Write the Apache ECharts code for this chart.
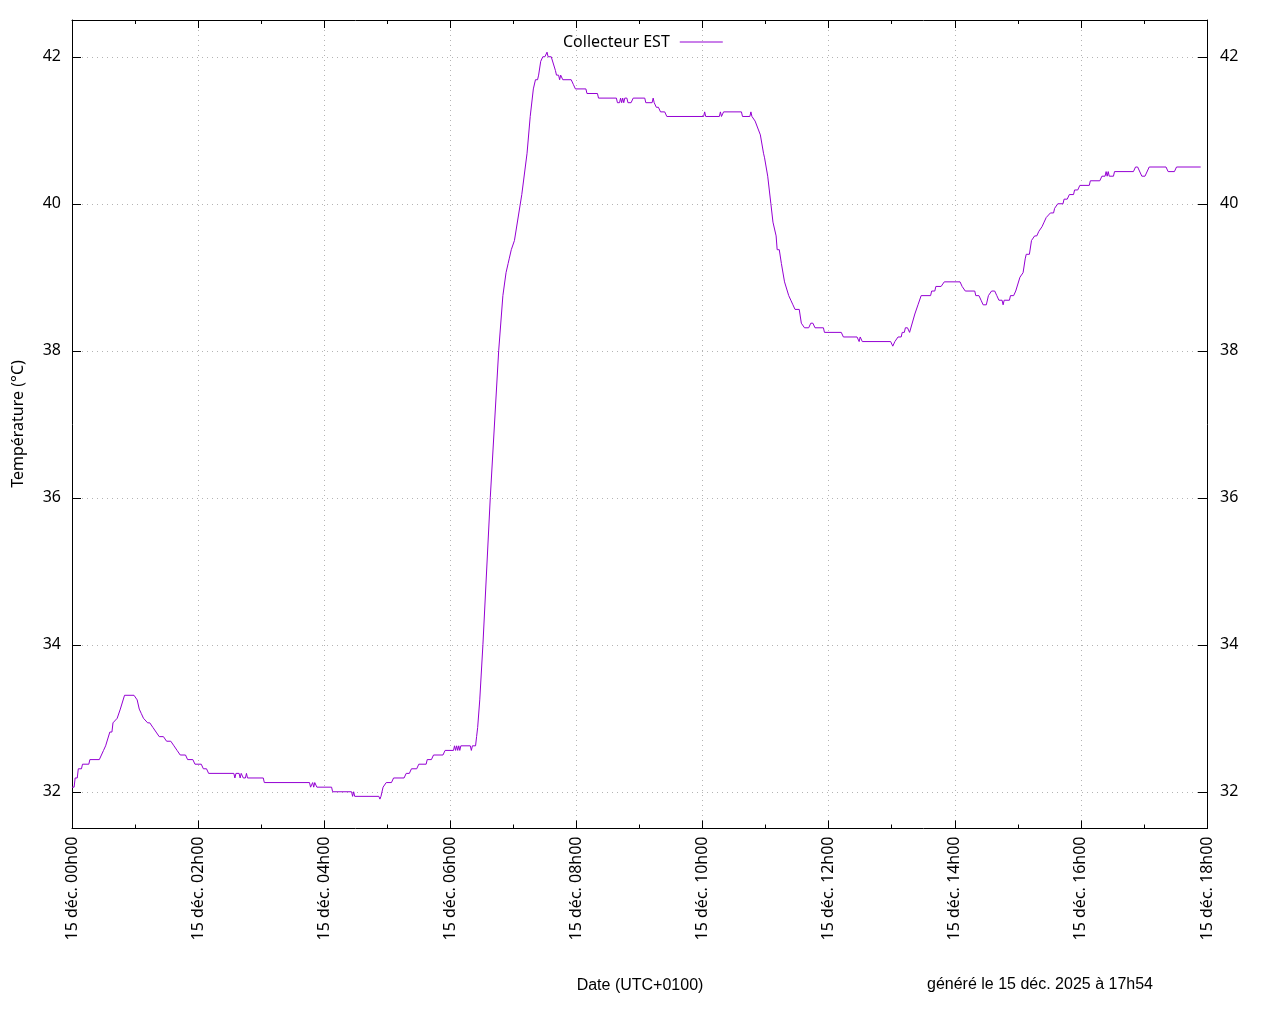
<!DOCTYPE html>
<html>
<head>
<meta charset="utf-8">
<script src="https://cdn.jsdelivr.net/npm/echarts@6/dist/echarts.min.js"></script>
<style>
html,body{margin:0;padding:0;background:#fff;}
#chart{width:1280px;height:1024px;}
</style>
</head>
<body>
<div id="chart"></div>
<script>
const seriesName = 'Collecteur EST';
const times = [
'00:00','00:02','00:03','00:05','00:06','00:09','00:10','00:16','00:17','00:26',
'00:28','00:30','00:32','00:36','00:38','00:39','00:43','00:46','00:50','00:59',
'01:02','01:04','01:06','01:08','01:12','01:14','01:17','01:20','01:23','01:27',
'01:30','01:34','01:37','01:40','01:43','01:48','01:50','01:55','01:57','02:03',
'02:05','02:08','02:10','02:34','02:35','02:36','02:39','02:40','02:41','02:43',
'02:45','02:46','02:47','03:02','03:03','03:46','03:47','03:49','03:50','03:51',
'03:53','04:07','04:08','04:26','04:27','04:28','04:29','04:52','04:53','04:54',
'04:56','04:59','05:04','05:06','05:16','05:18','05:21','05:23','05:28','05:30',
'05:37','05:38','05:42','05:44','05:53','05:55','06:03','06:04','06:05','06:06',
'06:07','06:08','06:09','06:10','06:19','06:20','06:21','06:24','06:25','06:26',
'06:27','06:28','06:31','06:38','06:46','06:50','06:53','06:55','06:56','06:57',
'06:58','06:59','07:01','07:02','07:08','07:13','07:16','07:19','07:21','07:23',
'07:24','07:26','07:28','07:30','07:32','07:33','07:36','07:40','07:41','07:43',
'07:44','07:45','07:47','07:55','07:57','07:59','08:09','08:10','08:20','08:21',
'08:38','08:39','08:41','08:42','08:43','08:44','08:45','08:46','08:48','08:49',
'08:52','08:54','09:05','09:06','09:12','09:13','09:14','09:16','09:18','09:20',
'09:24','09:26','10:01','10:02','10:03','10:16','10:17','10:18','10:20','10:37',
'10:38','10:45','10:46','10:47','10:48','10:50','10:51','10:55','10:58','10:59',
'11:02','11:03','11:05','11:07','11:10','11:11','11:13','11:15','11:18','11:22',
'11:24','11:26','11:28','11:32','11:34','11:37','11:41','11:43','11:45','11:47',
'11:55','11:56','12:12','12:14','12:27','12:29','12:30','12:32','12:59','13:01',
'13:03','13:06','13:09','13:10','13:12','13:13','13:15','13:17','13:22','13:25',
'13:28','13:37','13:38','13:41','13:42','13:47','13:50','14:05','14:07','14:10',
'14:19','14:20','14:23','14:25','14:27','14:30','14:32','14:35','14:38','14:40',
'14:42','14:45','14:46','14:47','14:52','14:53','14:56','14:58','14:59','15:02',
'15:05','15:07','15:08','15:11','15:13','15:16','15:18','15:20','15:23','15:25',
'15:27','15:31','15:34','15:35','15:38','15:43','15:44','15:47','15:49','15:53',
'15:54','15:57','15:59','16:08','16:09','16:18','16:20','16:23','16:24','16:25',
'16:26','16:27','16:31','16:32','16:50','16:52','16:54','16:58','17:01','17:05',
'17:21','17:23','17:29','17:31','17:54'
];
const temps = [
32.0625,32.0625,32.1875,32.1875,32.3125,32.3125,32.375,32.375,32.4375,32.4375,
32.5,32.5625,32.625,32.8125,32.8125,32.9375,33.0,33.125,33.3125,33.3125,
33.25,33.125,33.0625,33.0,32.9375,32.9375,32.875,32.8125,32.75,32.75,
32.6875,32.6875,32.625,32.5625,32.5,32.5,32.4375,32.4375,32.375,32.375,
32.3125,32.3125,32.25,32.25,32.1875,32.25,32.25,32.1875,32.25,32.1875,
32.1875,32.25,32.1875,32.1875,32.125,32.125,32.0625,32.125,32.0625,32.125,
32.0625,32.0625,32.0,32.0,31.9375,32.0,31.9375,31.9375,31.9,31.9375,
32.0625,32.125,32.125,32.1875,32.1875,32.25,32.25,32.3125,32.3125,32.375,
32.375,32.4375,32.4375,32.5,32.5,32.5625,32.5625,32.625,32.5625,32.625,
32.5625,32.625,32.5625,32.625,32.625,32.5625,32.625,32.625,32.75,32.875,
32.875,33.25,34.0,36.0,38.0,38.75,39.0625,39.1875,39.25,39.25,
39.375,39.375,39.5,39.5,40.125,40.6875,41.1875,41.5625,41.6875,41.6875,
41.75,41.9375,42.0,42.0,42.0625,42.0,42.0,41.8125,41.75,41.75,
41.6875,41.75,41.6875,41.6875,41.625,41.5625,41.5625,41.5,41.5,41.4375,
41.4375,41.375,41.375,41.4375,41.375,41.4375,41.375,41.4375,41.4375,41.375,
41.375,41.4375,41.4375,41.375,41.375,41.4375,41.375,41.3125,41.3125,41.25,
41.25,41.1875,41.1875,41.25,41.1875,41.1875,41.25,41.1875,41.25,41.25,
41.1875,41.1875,41.25,41.1875,41.1875,41.125,41.125,40.9375,40.6875,40.625,
40.375,40.375,40.0,39.75,39.5625,39.375,39.375,39.1875,38.9375,38.75,
38.6875,38.625,38.5625,38.5625,38.375,38.3125,38.3125,38.375,38.375,38.3125,
38.3125,38.25,38.25,38.1875,38.1875,38.125,38.1875,38.125,38.125,38.0625,
38.125,38.1875,38.1875,38.25,38.25,38.3125,38.3125,38.25,38.5,38.625,
38.75,38.75,38.8125,38.8125,38.875,38.875,38.9375,38.9375,38.875,38.8125,
38.8125,38.75,38.75,38.6875,38.625,38.625,38.75,38.8125,38.8125,38.75,
38.6875,38.6875,38.625,38.6875,38.6875,38.75,38.75,38.8125,38.8125,39.0,
39.0625,39.25,39.3125,39.3125,39.5,39.5625,39.5625,39.625,39.6875,39.75,
39.8125,39.875,39.875,39.9375,40.0,40.0,40.0625,40.0625,40.125,40.125,
40.1875,40.1875,40.25,40.25,40.3125,40.3125,40.375,40.375,40.4375,40.375,
40.4375,40.375,40.375,40.4375,40.4375,40.5,40.5,40.375,40.375,40.5,
40.5,40.4375,40.4375,40.5,40.5
];
const yTicks = [32, 34, 36, 38, 40, 42];
const datePrefix = '15 déc. ';
const yTitle = 'Température (°C)';
const xTitle = 'Date (UTC+0100)';
const footer = 'généré le 15 déc. 2025 à 17h54';

function toHours(s){ const p = s.split(':'); return (+p[0]) + (+p[1])/60 + (p[2]? (+p[2])/3600 : 0); }
const data = times.map((t,i)=>[toHours(t), temps[i]]);
function pad(n){ return (n<10?'0':'')+n; }

const chart = echarts.init(document.getElementById('chart'), null, {renderer:'canvas'});
const gridLine = {show:true, lineStyle:{color:'#b4b4b4', width:1, type:[1,4]}};
const font = 'Noto Sans';
chart.setOption({
  backgroundColor:'#ffffff',
  animation:false,
  grid:{left:72, top:20, width:1135, height:808.5, containLabel:false},
  legend:{
    data:[{name:seriesName, icon:'rect'}], left:558, top:29, align:'right',
    itemWidth:43, itemHeight:1, itemGap:0,
    itemStyle:{color:'#9400d3', borderWidth:0},
    lineStyle:{width:0},
    textStyle:{fontFamily:font, fontSize:16, color:'#000', padding:[0,5,0,0]}
  },
  xAxis:[
    {type:'value', min:0, max:18, interval:2, position:'bottom',
     axisLine:{show:true, onZero:false, lineStyle:{color:'#000', width:1}},
     axisTick:{show:true, inside:true, length:8, lineStyle:{color:'#000'}},
     minorTick:{show:true, splitNumber:2, length:4, lineStyle:{color:'#000'}},
     axisLabel:{rotate:90, margin:8, fontFamily:font, fontSize:16, color:'#000',
       formatter:function(v){ return datePrefix + pad(Math.round(v)) + 'h00'; }},
     splitLine:gridLine},
    {type:'value', min:0, max:18, interval:2, position:'top',
     axisLine:{show:true, onZero:false, lineStyle:{color:'#000', width:1}},
     axisTick:{show:true, inside:true, length:8, lineStyle:{color:'#000'}},
     minorTick:{show:true, splitNumber:2, length:4, lineStyle:{color:'#000'}},
     axisLabel:{show:false}, splitLine:{show:false}}
  ],
  yAxis:[
    {type:'value', min:31.5, max:42.5, position:'left',
     axisLine:{show:true, onZero:false, lineStyle:{color:'#000', width:1}},
     axisTick:{show:true, inside:true, length:9, lineStyle:{color:'#000'}, customValues:yTicks},
     axisLabel:{margin:11, fontFamily:font, fontSize:16, color:'#000', customValues:yTicks},
     splitLine:gridLine},
    {type:'value', min:31.5, max:42.5, position:'right',
     axisLine:{show:true, onZero:false, lineStyle:{color:'#000', width:1}},
     axisTick:{show:true, inside:true, length:9, lineStyle:{color:'#000'}, customValues:yTicks},
     axisLabel:{margin:13, fontFamily:font, fontSize:16, color:'#000', customValues:yTicks},
     splitLine:{show:false}}
  ],
  series:[{
    name:seriesName, type:'line', data:data, xAxisIndex:0, yAxisIndex:0,
    symbol:'none', showSymbol:false, smooth:false,
    lineStyle:{color:'#9400d3', width:1}, itemStyle:{color:'#9400d3'}
  }],
  graphic:[
    {type:'text', x:18, y:424, rotation:Math.PI/2,
     style:{text:yTitle, fontFamily:font, fontSize:16, fill:'#000', align:'center', verticalAlign:'middle'}},
    {type:'text', x:640, y:986,
     style:{text:xTitle, fontFamily:'Liberation Sans', fontSize:16, fill:'#000', align:'center', verticalAlign:'middle'}},
    {type:'text', x:1040, y:985,
     style:{text:footer, fontFamily:'Liberation Sans', fontSize:16, fill:'#000', align:'center', verticalAlign:'middle'}}
  ]
});
</script>
</body>
</html>
